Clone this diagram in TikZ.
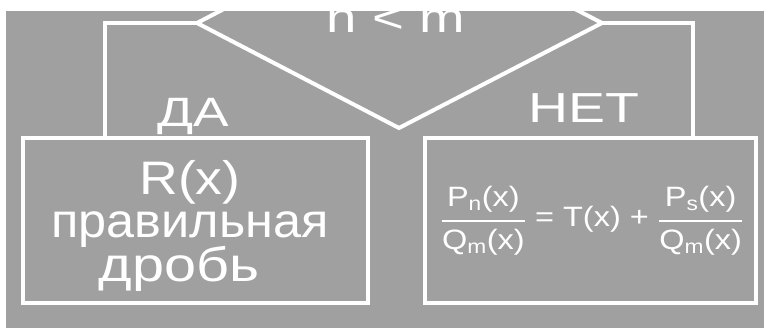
\documentclass[tikz,border=0pt]{standalone}
\usepackage{amsmath}
\usepackage{graphicx}
\usepackage{fontspec}
\setmainfont{Liberation Sans}
\definecolor{panel}{RGB}{160,160,160}
\tikzset{
  wline/.style={draw=white, line width=4pt, line join=miter},
  block/.style={wline, rectangle, inner sep=0pt},
  label/.style={text=white, inner sep=0pt, anchor=base},
}
% wide lettering: font size #1, horizontal stretch #2
\newcommand{\wide}[3]{\fontsize{#1}{#1}\selectfont\scalebox{#2}[1]{#3}}
\newcommand{\frc}[2]{\genfrac{}{}{2.4pt}{0}{\mbox{#1}}{\mbox{#2}}}
\begin{document}
\begin{tikzpicture}[x=1pt, y=-1pt]
  % page and grey panel
  \useasboundingbox (0,0) rectangle (764,328);
  \fill[white] (0,0) rectangle (764,328);
  \fill[panel] (6,11) rectangle (764,328);

  % decision diamond (its upper half runs off the panel)
  \coordinate (dl) at (197,23);
  \coordinate (db) at (399,128);
  \coordinate (dr) at (602,23);
  \coordinate (dt) at (399,-82);
  \begin{scope}
    \clip (6,11) rectangle (764,328);
    \draw[wline] (dl) -- (db) -- (dr) -- (dt) -- cycle;
  \end{scope}
  \node[label] (cond) at (396,33) {\wide{42}{1.3}{n < m}};

  % result blocks
  \node[block, minimum width=345pt, minimum height=165pt] (yes) at (195.5,220.5) {};
  \node[block, minimum width=331.5pt, minimum height=165pt] (no) at (590.25,220.5) {};

  % branches
  \coordinate (yesin) at (105,138);
  \coordinate (noin) at (693,138);
  \draw[wline] (dl) -| (yesin);
  \draw[wline] (dr) -| (noin);
  \node[label] (ya) at (193,127) {\wide{41}{1.3}{ДА}};
  \node[label] (na) at (584,123) {\wide{42}{1.32}{НЕТ}};

  % left block text
  \node[label] (r1) at (190,195) {\wide{47}{1.14}{R(x)}};
  \node[label] (r2) at (190,238) {\wide{48}{1.05}{правильная}};
  \node[label] (r3) at (179,282) {\wide{48}{1.2}{дробь}};

  % right block formula
  \node[label] (f) at (592,227)
    {\wide{28}{1.16}{$\frc{P\textsubscript{n}(x)}{Q\textsubscript{m}(x)}
      \mbox{ = T(x) + }
      \frc{P\textsubscript{s}(x)}{Q\textsubscript{m}(x)}$}};
\end{tikzpicture}
\end{document}
